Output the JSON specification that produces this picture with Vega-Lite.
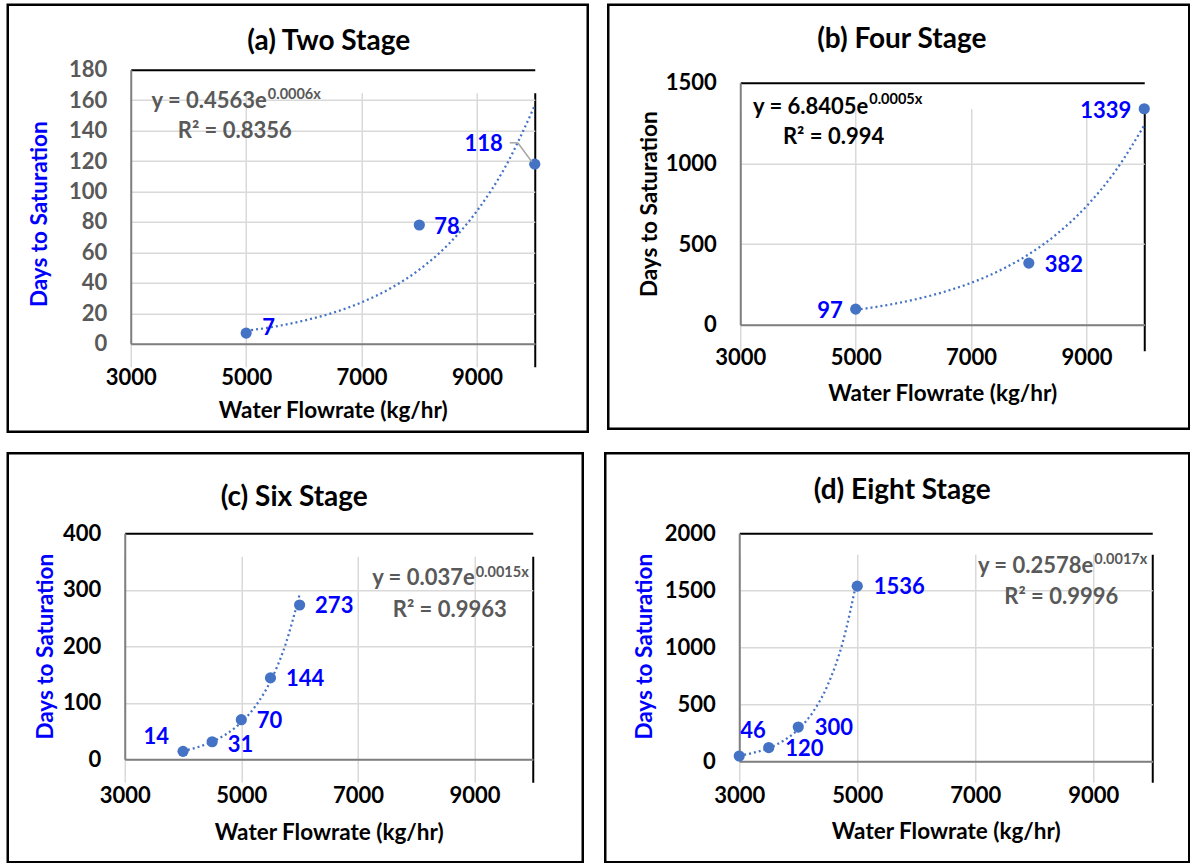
{
  "$schema": "https://vega.github.io/schema/vega-lite/v6.json",
  "background": "white",
  "padding": {"left": 5.75, "top": 2.75, "right": 0, "bottom": 0},
  "spacing": 17.5,
  "config": {
    "font": "Lato",
    "view": {"stroke": "#000000", "strokeWidth": 2.5},
    "axis": {"labelFont": "Lato", "labelFontSize": 22, "labelFontWeight": "bold", "labelColor": "#000000", "titleFont": "Lato", "titleFontSize": 22.5, "titleFontWeight": "bold", "titleColor": "#000000", "ticks": false, "tickSize": 0, "domainWidth": 2, "labelFlush": false, "labelOverlap": false},
    "title": {"font": "Lato", "fontSize": 28, "fontWeight": "bold", "color": "#000000", "anchor": "middle", "frame": "group", "baseline": "middle"},
    "text": {"font": "Lato", "fontWeight": "bold", "fontSize": 22, "baseline": "middle"}
  },
  "datasets": {
    "a_pts": [{"flow": 5000, "days": 7}, {"flow": 8000, "days": 78}, {"flow": 10000, "days": 118}],
    "a_fit": [{"flow": 5000, "days": 8.5}, {"flow": 5500, "days": 11.3}, {"flow": 6000, "days": 15.2}, {"flow": 6500, "days": 20.3}, {"flow": 7000, "days": 27.2}, {"flow": 7500, "days": 36.4}, {"flow": 8000, "days": 48.7}, {"flow": 8500, "days": 65.2}, {"flow": 9000, "days": 87.3}, {"flow": 9500, "days": 116.9}, {"flow": 10000, "days": 156.5}],
    "b_pts": [{"flow": 5000, "days": 97}, {"flow": 8000, "days": 382}, {"flow": 10000, "days": 1339}],
    "b_fit": [{"flow": 5000, "days": 91.9}, {"flow": 5500, "days": 119.2}, {"flow": 6000, "days": 154.6}, {"flow": 6500, "days": 200.4}, {"flow": 7000, "days": 259.9}, {"flow": 7500, "days": 337.0}, {"flow": 8000, "days": 437.0}, {"flow": 8500, "days": 566.7}, {"flow": 9000, "days": 734.9}, {"flow": 9500, "days": 953.0}, {"flow": 10000, "days": 1235.8}],
    "c_pts": [{"flow": 4000, "days": 14}, {"flow": 4500, "days": 31}, {"flow": 5000, "days": 70}, {"flow": 5500, "days": 144}, {"flow": 6000, "days": 273}],
    "c_fit": [{"flow": 4000, "days": 14.7}, {"flow": 4250, "days": 21.3}, {"flow": 4500, "days": 31.0}, {"flow": 4750, "days": 45.0}, {"flow": 5000, "days": 65.4}, {"flow": 5250, "days": 95.0}, {"flow": 5500, "days": 138.1}, {"flow": 5750, "days": 200.7}, {"flow": 6000, "days": 291.7}],
    "d_pts": [{"flow": 3000, "days": 46}, {"flow": 3500, "days": 120}, {"flow": 4000, "days": 300}, {"flow": 5000, "days": 1536}],
    "d_fit": [{"flow": 3000, "days": 48.7}, {"flow": 3250, "days": 75.4}, {"flow": 3500, "days": 116.7}, {"flow": 3750, "days": 180.5}, {"flow": 4000, "days": 279.5}, {"flow": 4250, "days": 432.5}, {"flow": 4500, "days": 669.6}, {"flow": 4750, "days": 1036.2}, {"flow": 5000, "days": 1603.4}],
    "one": [{}]
  },
  "vconcat": [
    {
      "spacing": 16.5,
      "hconcat": [
        {
          "width": 580, "height": 427,
          "title": {"text": "(a) Two Stage", "offset": -51, "dx": 31},
          "resolve": {"axis": {"x": "independent", "y": "independent"}},
          "layer": [
            {"data": {"name": "a_fit"}, "mark": {"type": "line", "interpolate": "monotone", "color": "#4472C4", "strokeWidth": 2.25, "strokeDash": [2, 3]},
             "encoding": {
               "x": {"field": "flow", "type": "quantitative", "scale": {"domain": [3000, 10000], "range": [123, 527], "nice": false, "zero": false},
                     "axis": {"orient": "bottom", "offset": -88, "values": [3000, 5000, 7000, 9000, 10000], "format": "d", "labelExpr": "datum.value == 10000 ? '' : datum.label", "grid": true, "gridColor": {"condition": {"test": "datum.value == 10000", "value": "#000000"}, "value": "#D9D9D9"}, "gridWidth": {"condition": {"test": "datum.value == 10000", "value": 2}, "value": 1.5}, "domainColor": "#7F7F7F", "labelPadding": 34, "labelBaseline": "middle", "title": "Water Flowrate (kg/hr)", "titleY": 67, "titleBaseline": "middle"}},
               "y": {"field": "days", "type": "quantitative", "scale": {"domain": [0, 180], "range": [339, 65], "nice": false},
                     "axis": {"orient": "left", "offset": -123, "values": [0, 20, 40, 60, 80, 100, 120, 140, 160, 180], "format": "d", "grid": true, "gridColor": {"condition": {"test": "datum.value == 180", "value": "#000000"}, "value": "#D9D9D9"}, "gridWidth": {"condition": {"test": "datum.value == 180", "value": 2}, "value": 1.5}, "domainColor": "#7F7F7F", "labelPadding": 24, "labelColor": "#595959", "title": "Days to Saturation", "titleColor": "#0000FF", "titleX": -91, "titleY": 209, "titleBaseline": "middle"}}
             }},
            {"data": {"name": "a_pts"}, "mark": {"type": "circle", "size": 125, "color": "#4472C4", "opacity": 1},
             "encoding": {"x": {"field": "flow", "type": "quantitative", "axis": null}, "y": {"field": "days", "type": "quantitative", "axis": null}}},
            {"data": {"name": "a_pts"}, "transform": [{"filter": "datum.days == 7"}], "mark": {"type": "text", "align": "left", "dx": 16, "dy": -5, "color": "#0000FF"},
             "encoding": {"x": {"field": "flow", "type": "quantitative", "axis": null}, "y": {"field": "days", "type": "quantitative", "axis": null}, "text": {"field": "days", "type": "quantitative", "format": "d"}}},
            {"data": {"name": "a_pts"}, "transform": [{"filter": "datum.days == 78"}], "mark": {"type": "text", "align": "left", "dx": 15, "dy": 2, "color": "#0000FF"},
             "encoding": {"x": {"field": "flow", "type": "quantitative", "axis": null}, "y": {"field": "days", "type": "quantitative", "axis": null}, "text": {"field": "days", "type": "quantitative", "format": "d"}}},
            {"data": {"name": "a_pts"}, "transform": [{"filter": "datum.days == 118"}], "mark": {"type": "text", "align": "right", "dx": -32, "dy": -20, "color": "#0000FF"},
             "encoding": {"x": {"field": "flow", "type": "quantitative", "axis": null}, "y": {"field": "days", "type": "quantitative", "axis": null}, "text": {"field": "days", "type": "quantitative", "format": "d"}}},
            {"data": {"name": "one"}, "mark": {"type": "rule", "color": "#A6A6A6", "strokeWidth": 1.5},
             "encoding": {"x": {"datum": 9567, "type": "quantitative", "axis": null}, "y": {"datum": 132, "type": "quantitative", "axis": null}, "x2": {"datum": 9706}, "y2": {"datum": 132}}},
            {"data": {"name": "one"}, "mark": {"type": "rule", "color": "#A6A6A6", "strokeWidth": 1.5},
             "encoding": {"x": {"datum": 9706, "type": "quantitative", "axis": null}, "y": {"datum": 132, "type": "quantitative", "axis": null}, "x2": {"datum": 9949}, "y2": {"datum": 119.6}}},
            {"data": {"name": "one"}, "mark": {"type": "text", "align": "right", "color": "#595959", "text": "y = 0.4563e"},
             "encoding": {"x": {"datum": 5357, "type": "quantitative", "axis": null}, "y": {"datum": 159.6, "type": "quantitative", "axis": null}}},
            {"data": {"name": "one"}, "mark": {"type": "text", "align": "left", "dx": 1, "fontSize": 14.5, "color": "#595959", "text": "0.0006x"},
             "encoding": {"x": {"datum": 5357, "type": "quantitative", "axis": null}, "y": {"datum": 163.6, "type": "quantitative", "axis": null}}},
            {"data": {"name": "one"}, "mark": {"type": "text", "align": "left", "color": "#595959", "text": "R² = 0.8356"},
             "encoding": {"x": {"datum": 3814, "type": "quantitative", "axis": null}, "y": {"datum": 139.9, "type": "quantitative", "axis": null}}}
          ]
        },
        {
          "width": 581, "height": 424,
          "title": {"text": "(b) Four Stage", "offset": -49, "dx": 3},
          "resolve": {"axis": {"x": "independent", "y": "independent"}},
          "layer": [
            {"data": {"name": "b_fit"}, "mark": {"type": "line", "interpolate": "monotone", "color": "#4472C4", "strokeWidth": 2.25, "strokeDash": [2, 3]},
             "encoding": {
               "x": {"field": "flow", "type": "quantitative", "scale": {"domain": [3000, 10000], "range": [132, 536], "nice": false, "zero": false},
                     "axis": {"orient": "bottom", "offset": -104, "values": [3000, 5000, 7000, 9000, 10000], "format": "d", "labelExpr": "datum.value == 10000 ? '' : datum.label", "grid": true, "gridColor": {"condition": {"test": "datum.value == 10000", "value": "#000000"}, "value": "#D9D9D9"}, "gridWidth": {"condition": {"test": "datum.value == 10000", "value": 2}, "value": 1.5}, "domainColor": "#7F7F7F", "labelPadding": 33, "labelBaseline": "middle", "title": "Water Flowrate (kg/hr)", "titleY": 69, "titleBaseline": "middle"}},
               "y": {"field": "days", "type": "quantitative", "scale": {"domain": [0, 1500], "range": [320, 78], "nice": false},
                     "axis": {"orient": "left", "offset": -132, "values": [0, 500, 1000, 1500], "format": "d", "grid": true, "gridColor": {"condition": {"test": "datum.value == 1500", "value": "#000000"}, "value": "#D9D9D9"}, "gridWidth": {"condition": {"test": "datum.value == 1500", "value": 2}, "value": 1.5}, "domainColor": "#7F7F7F", "labelPadding": 24, "title": "Days to Saturation", "titleX": -91, "titleY": 199, "titleBaseline": "middle"}}
             }},
            {"data": {"name": "b_pts"}, "mark": {"type": "circle", "size": 125, "color": "#4472C4", "opacity": 1},
             "encoding": {"x": {"field": "flow", "type": "quantitative", "axis": null}, "y": {"field": "days", "type": "quantitative", "axis": null}}},
            {"data": {"name": "b_pts"}, "transform": [{"filter": "datum.days == 382"}], "mark": {"type": "text", "align": "left", "dx": 16, "dy": 2, "color": "#0000FF"},
             "encoding": {"x": {"field": "flow", "type": "quantitative", "axis": null}, "y": {"field": "days", "type": "quantitative", "axis": null}, "text": {"field": "days", "type": "quantitative", "format": "d"}}},
            {"data": {"name": "b_pts"}, "transform": [{"filter": "datum.days != 382"}], "mark": {"type": "text", "align": "right", "dx": -13, "dy": 2, "color": "#0000FF"},
             "encoding": {"x": {"field": "flow", "type": "quantitative", "axis": null}, "y": {"field": "days", "type": "quantitative", "axis": null}, "text": {"field": "days", "type": "quantitative", "format": "d"}}},
            {"data": {"name": "one"}, "mark": {"type": "text", "align": "right", "color": "#000000", "text": "y = 6.8405e"},
             "encoding": {"x": {"datum": 5218, "type": "quantitative", "axis": null}, "y": {"datum": 1347, "type": "quantitative", "axis": null}}},
            {"data": {"name": "one"}, "mark": {"type": "text", "align": "left", "dx": 1, "fontSize": 14.5, "color": "#000000", "text": "0.0005x"},
             "encoding": {"x": {"datum": 5218, "type": "quantitative", "axis": null}, "y": {"datum": 1390, "type": "quantitative", "axis": null}}},
            {"data": {"name": "one"}, "mark": {"type": "text", "align": "left", "color": "#000000", "text": "R² = 0.994"},
             "encoding": {"x": {"datum": 3740, "type": "quantitative", "axis": null}, "y": {"datum": 1161, "type": "quantitative", "axis": null}}}
          ]
        }
      ]
    },
    {
      "spacing": 18.5,
      "hconcat": [
        {
          "width": 575, "height": 409,
          "title": {"text": "(c) Six Stage", "offset": -59, "dx": -1},
          "resolve": {"axis": {"x": "independent", "y": "independent"}},
          "layer": [
            {"data": {"name": "c_fit"}, "mark": {"type": "line", "interpolate": "monotone", "color": "#4472C4", "strokeWidth": 2.25, "strokeDash": [2, 3]},
             "encoding": {
               "x": {"field": "flow", "type": "quantitative", "scale": {"domain": [3000, 10000], "range": [117, 525], "nice": false, "zero": false},
                     "axis": {"orient": "bottom", "offset": -103, "values": [3000, 5000, 7000, 9000, 10000], "format": "d", "labelExpr": "datum.value == 10000 ? '' : datum.label", "grid": true, "gridColor": {"condition": {"test": "datum.value == 10000", "value": "#000000"}, "value": "#D9D9D9"}, "gridWidth": {"condition": {"test": "datum.value == 10000", "value": 2}, "value": 1.5}, "domainColor": "#7F7F7F", "labelPadding": 36, "labelBaseline": "middle", "title": "Water Flowrate (kg/hr)", "titleY": 73, "titleBaseline": "middle"}},
               "y": {"field": "days", "type": "quantitative", "scale": {"domain": [0, 400], "range": [306, 80], "nice": false},
                     "axis": {"orient": "left", "offset": -117, "values": [0, 100, 200, 300, 400], "format": "d", "grid": true, "gridColor": {"condition": {"test": "datum.value == 400", "value": "#000000"}, "value": "#D9D9D9"}, "gridWidth": {"condition": {"test": "datum.value == 400", "value": 2}, "value": 1.5}, "domainColor": "#7F7F7F", "labelPadding": 24, "title": "Days to Saturation", "titleColor": "#0000FF", "titleX": -79, "titleY": 193, "titleBaseline": "middle"}}
             }},
            {"data": {"name": "c_pts"}, "mark": {"type": "circle", "size": 125, "color": "#4472C4", "opacity": 1},
             "encoding": {"x": {"field": "flow", "type": "quantitative", "axis": null}, "y": {"field": "days", "type": "quantitative", "axis": null}}},
            {"data": {"name": "c_pts"}, "transform": [{"filter": "datum.days == 31"}], "mark": {"type": "text", "align": "left", "dx": 15.5, "dy": 3, "color": "#0000FF"},
             "encoding": {"x": {"field": "flow", "type": "quantitative", "axis": null}, "y": {"field": "days", "type": "quantitative", "axis": null}, "text": {"field": "days", "type": "quantitative", "format": "d"}}},
            {"data": {"name": "c_pts"}, "transform": [{"filter": "datum.days > 50"}], "mark": {"type": "text", "align": "left", "dx": 15.5, "dy": 1, "color": "#0000FF"},
             "encoding": {"x": {"field": "flow", "type": "quantitative", "axis": null}, "y": {"field": "days", "type": "quantitative", "axis": null}, "text": {"field": "days", "type": "quantitative", "format": "d"}}},
            {"data": {"name": "c_pts"}, "transform": [{"filter": "datum.days == 14"}], "mark": {"type": "text", "align": "right", "dx": -14, "dy": -14, "color": "#0000FF"},
             "encoding": {"x": {"field": "flow", "type": "quantitative", "axis": null}, "y": {"field": "days", "type": "quantitative", "axis": null}, "text": {"field": "days", "type": "quantitative", "format": "d"}}},
            {"data": {"name": "one"}, "mark": {"type": "text", "align": "right", "color": "#595959", "text": "y = 0.037e"},
             "encoding": {"x": {"datum": 9004, "type": "quantitative", "axis": null}, "y": {"datum": 320, "type": "quantitative", "axis": null}}},
            {"data": {"name": "one"}, "mark": {"type": "text", "align": "left", "dx": 1, "fontSize": 14.5, "color": "#595959", "text": "0.0015x"},
             "encoding": {"x": {"datum": 9004, "type": "quantitative", "axis": null}, "y": {"datum": 329, "type": "quantitative", "axis": null}}},
            {"data": {"name": "one"}, "mark": {"type": "text", "align": "left", "color": "#595959", "text": "R² = 0.9963"},
             "encoding": {"x": {"datum": 7598, "type": "quantitative", "axis": null}, "y": {"datum": 264, "type": "quantitative", "axis": null}}}
          ]
        },
        {
          "width": 584, "height": 409,
          "title": {"text": "(d) Eight Stage", "offset": -52, "dx": 5},
          "resolve": {"axis": {"x": "independent", "y": "independent"}},
          "layer": [
            {"data": {"name": "d_fit"}, "mark": {"type": "line", "interpolate": "monotone", "color": "#4472C4", "strokeWidth": 2.25, "strokeDash": [2, 3]},
             "encoding": {
               "x": {"field": "flow", "type": "quantitative", "scale": {"domain": [3000, 10000], "range": [134, 547], "nice": false, "zero": false},
                     "axis": {"orient": "bottom", "offset": -101, "values": [3000, 5000, 7000, 9000, 10000], "format": "d", "labelExpr": "datum.value == 10000 ? '' : datum.label", "grid": true, "gridColor": {"condition": {"test": "datum.value == 10000", "value": "#000000"}, "value": "#D9D9D9"}, "gridWidth": {"condition": {"test": "datum.value == 10000", "value": 2}, "value": 1.5}, "domainColor": "#7F7F7F", "labelPadding": 34, "labelBaseline": "middle", "title": "Water Flowrate (kg/hr)", "titleY": 70, "titleBaseline": "middle"}},
               "y": {"field": "days", "type": "quantitative", "scale": {"domain": [0, 2000], "range": [308, 80], "nice": false},
                     "axis": {"orient": "left", "offset": -134, "values": [0, 500, 1000, 1500, 2000], "format": "d", "grid": true, "gridColor": {"condition": {"test": "datum.value == 2000", "value": "#000000"}, "value": "#D9D9D9"}, "gridWidth": {"condition": {"test": "datum.value == 2000", "value": 2}, "value": 1.5}, "domainColor": "#7F7F7F", "labelPadding": 24, "title": "Days to Saturation", "titleColor": "#0000FF", "titleX": -95, "titleY": 193, "titleBaseline": "middle"}}
             }},
            {"data": {"name": "d_pts"}, "mark": {"type": "circle", "size": 125, "color": "#4472C4", "opacity": 1},
             "encoding": {"x": {"field": "flow", "type": "quantitative", "axis": null}, "y": {"field": "days", "type": "quantitative", "axis": null}}},
            {"data": {"name": "d_pts"}, "transform": [{"filter": "datum.days > 100"}], "mark": {"type": "text", "align": "left", "dx": 16.5, "dy": 1, "color": "#0000FF"},
             "encoding": {"x": {"field": "flow", "type": "quantitative", "axis": null}, "y": {"field": "days", "type": "quantitative", "axis": null}, "text": {"field": "days", "type": "quantitative", "format": "d"}}},
            {"data": {"name": "d_pts"}, "transform": [{"filter": "datum.days == 46"}], "mark": {"type": "text", "align": "left", "dx": 1, "dy": -25, "color": "#0000FF"},
             "encoding": {"x": {"field": "flow", "type": "quantitative", "axis": null}, "y": {"field": "days", "type": "quantitative", "axis": null}, "text": {"field": "days", "type": "quantitative", "format": "d"}}},
            {"data": {"name": "one"}, "mark": {"type": "text", "align": "right", "color": "#595959", "text": "y = 0.2578e"},
             "encoding": {"x": {"datum": 9000, "type": "quantitative", "axis": null}, "y": {"datum": 1711, "type": "quantitative", "axis": null}}},
            {"data": {"name": "one"}, "mark": {"type": "text", "align": "left", "dx": 1, "fontSize": 14.5, "color": "#595959", "text": "0.0017x"},
             "encoding": {"x": {"datum": 9000, "type": "quantitative", "axis": null}, "y": {"datum": 1765, "type": "quantitative", "axis": null}}},
            {"data": {"name": "one"}, "mark": {"type": "text", "align": "left", "color": "#595959", "text": "R² = 0.9996"},
             "encoding": {"x": {"datum": 7492, "type": "quantitative", "axis": null}, "y": {"datum": 1439, "type": "quantitative", "axis": null}}}
          ]
        }
      ]
    }
  ]
}
